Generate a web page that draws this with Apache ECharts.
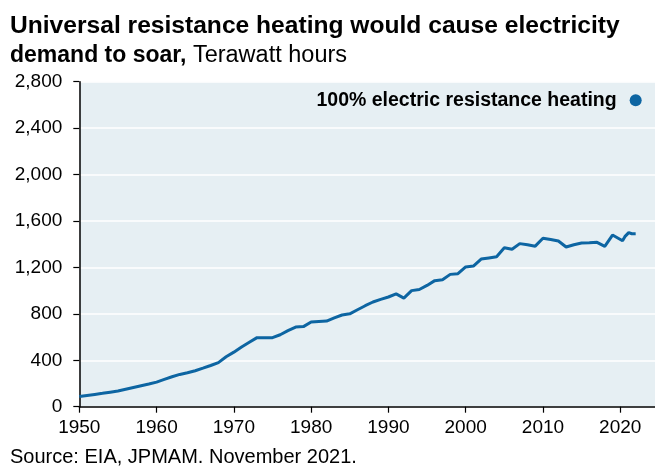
<!DOCTYPE html>
<html>
<head>
<meta charset="utf-8">
<script src="https://cdn.jsdelivr.net/npm/echarts@6/dist/echarts.min.js"></script>
<style>
html,body{margin:0;padding:0;background:#fff;}
#chart{width:655px;height:466px;}
</style>
</head>
<body>
<div id="chart"></div>
<script>
// Data (Terawatt hours)
const years = [1950,1951,1952,1953,1954,1955,1956,1957,1958,1959,
  1960,1961,1962,1963,1964,1965,1966,1967,1968,1969,
  1970,1971,1972,1973,1974,1975,1976,1977,1978,1979,
  1980,1981,1982,1983,1984,1985,1986,1987,1988,1989,
  1990,1991,1992,1993,1994,1995,1996,1997,1998,1999,
  2000,2001,2002,2003,2004,2005,2006,2007,2008,2009,
  2010,2011,2012,2013,2014,2015,2016,2017,2018,2019,
  2020.3,2020.6,2020.8,2021.1,2021.3,2021.5,2022.0];
const demand = [88,97,106,115,125,135,150,165,180,195,
  212,235,258,278,292,310,332,355,380,430,
  470,515,555,595,595,595,620,655,686,690,
  730,735,738,765,790,800,835,870,902,925,
  945,972,936,1000,1010,1045,1086,1094,1140,1146,
  1204,1212,1272,1282,1292,1370,1356,1405,1395,1383,
  1451,1440,1428,1376,1395,1410,1412,1416,1382,1479,
  1430,1465,1455,1500,1508,1490,1491];
const scenarioYear = [2022];
const scenarioValue = [2640];
const scenarioLabel = '100% electric resistance heating';
const xTicks = [1950,1960,1970,1980,1990,2000,2010,2020];
const titleLine1 = 'Universal resistance heating would cause electricity';
const titleBold2 = 'demand to soar,';
const titleUnit = ' Terawatt hours';
const sourceText = 'Source: EIA, JPMAM. November 2021.';

const lineColor = '#0D65A2';
const font = 'Liberation Sans, Arial, Helvetica, sans-serif';

const chart = echarts.init(document.getElementById('chart'), null, {renderer:'canvas'});
chart.setOption({
  animation: false,
  backgroundColor: '#ffffff',
  title: {
    left: 10, top: 12, padding: 0,
    text: '{b1|' + titleLine1 + '}\n{b2|' + titleBold2 + '}{r|' + titleUnit + '}',
    textStyle: {
      rich: {
        b1: {fontFamily: font, fontWeight: 'bold', fontSize: 24.6, lineHeight: 29, color: '#000'},
        b2: {fontFamily: font, fontWeight: 'bold', fontSize: 23, lineHeight: 29, color: '#000'},
        r: {fontFamily: font, fontWeight: 'normal', fontSize: 23.5, lineHeight: 29, color: '#000'}
      }
    }
  },
  graphic: [{
    type: 'text', left: 10, top: 447,
    style: {text: sourceText, font: '20px ' + font, fill: '#000'}
  }],
  grid: {left: 79.3, right: 0, top: 81.7, bottom: 59.3, show: true, backgroundColor: '#E6EFF3', borderWidth: 0},
  xAxis: {
    type: 'value', min: 1950, max: 2024.5,
    axisLine: {show: true, lineStyle: {color: '#000', width: 1.5}},
    axisTick: {show: true, length: 6, customValues: xTicks, lineStyle: {color: '#000', width: 1.2}},
    axisLabel: {customValues: xTicks, fontFamily: font, fontSize: 19, color: '#000', margin: 12,
      formatter: v => String(v)},
    splitLine: {show: false}
  },
  yAxis: {
    type: 'value', min: 0, max: 2800, interval: 400,
    axisLine: {show: true, lineStyle: {color: '#000', width: 1.5}},
    axisTick: {show: true, length: 6, lineStyle: {color: '#000', width: 1.2}},
    axisLabel: {fontFamily: font, fontSize: 19, color: '#000', margin: 17,
      formatter: v => v.toLocaleString('en-US')},
    splitLine: {show: true, lineStyle: {color: '#ffffff', width: 1.5}}
  },
  series: [{
    type: 'line',
    data: years.map((y, i) => [y, demand[i]]),
    showSymbol: false, symbol: 'none',
    lineStyle: {color: lineColor, width: 3},
    z: 3
  }, {
    type: 'scatter',
    data: scenarioYear.map((y, i) => [y, scenarioValue[i]]),
    symbolSize: 12,
    itemStyle: {color: lineColor, opacity: 1},
    label: {show: true, position: 'left', distance: 13, formatter: scenarioLabel,
      fontFamily: font, fontWeight: 'bold', fontSize: 19.5, color: '#000', opacity: 1},
    emphasis: {disabled: true},
    z: 4
  }]
});
</script>
</body>
</html>
